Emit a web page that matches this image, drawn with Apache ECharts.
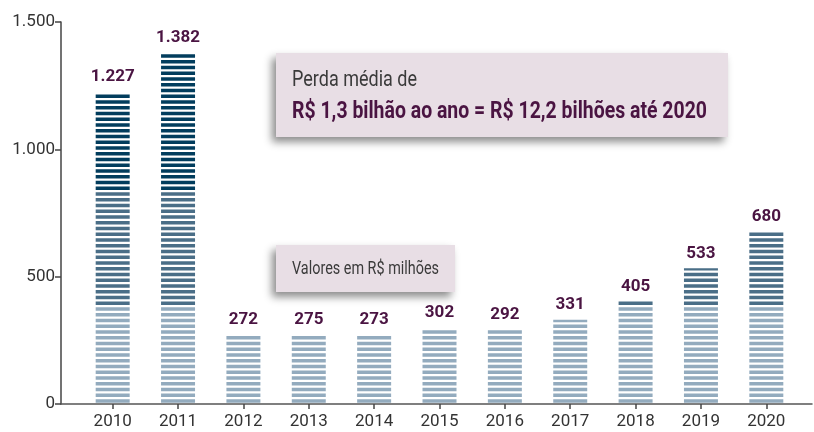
<!DOCTYPE html>
<html>
<head>
<meta charset="utf-8">
<script src="https://cdn.jsdelivr.net/npm/echarts@6/dist/echarts.min.js"></script>
<style>
  html, body { margin: 0; padding: 0; background: #fff; }
  #main { width: 814px; height: 432px; }
</style>
</head>
<body>
<div id="main"></div>
<script>
// dados (R$ milhões)
var years = ['2010', '2011', '2012', '2013', '2014', '2015', '2016', '2017', '2018', '2019', '2020'];
var losses = [1227, 1382, 272, 275, 273, 302, 292, 331, 405, 533, 680];
var yTicks = [0, 500, 1000, 1500];
// faixas de cor das barras (valor onde muda a cor)
var bandLimits = [387, 842];
var bandColors = ['#93abbe', '#4a6e87', '#023d5d'];

var FONT = "Roboto, 'Liberation Sans', sans-serif";

function fmt(v) {
  return String(v).replace(/\B(?=(\d{3})+(?!\d))/g, '.');
}

// largura do texto para comprimir (a fonte original é condensada)
var mctx = document.createElement('canvas').getContext('2d');
function squeeze(text, font, target) {
  mctx.font = font;
  return target / mctx.measureText(text).width;
}

var pitch = 5.75, stripe = 3.6;

function renderStripes(params, api) {
  var idx = api.value(0);
  var v = api.value(1);
  var p0 = api.coord([idx, 0]);
  var p1 = api.coord([idx, v]);
  var l1 = api.coord([idx, bandLimits[0]])[1];
  var l2 = api.coord([idx, bandLimits[1]])[1];
  var w = api.size([1, 0])[0] * 0.52;
  var x = p0[0] - w / 2;
  var children = [];
  for (var yb = p0[1] - 1.2; yb - p1[1] >= 2; yb -= pitch) {
    var yt = Math.max(yb - stripe, p1[1]);
    var mid = (yt + yb) / 2;
    var c = bandColors[0];
    if (mid < l1) c = bandColors[1];
    if (mid < l2) c = bandColors[2];
    children.push({
      type: 'rect',
      shape: { x: x, y: yt, width: w, height: yb - yt },
      style: { fill: c }
    });
  }
  return { type: 'group', children: children };
}

var chart = echarts.init(document.getElementById('main'));

var line2 = 'R$ 1,3 bilhão ao ano = R$ 12,2 bilhões até 2020';
var f1 = '22px ' + FONT, f2 = 'bold 23px ' + FONT, f3 = '18px ' + FONT;

var option = {
  animation: false,
  grid: [
    { left: 80, right: 15, top: 22, bottom: 28 },
    { left: 61, right: 2, top: 22, bottom: 28 }   // só para a linha do eixo x mais comprida
  ],
  xAxis: [
    {
      type: 'category',
      data: years,
      gridIndex: 0,
      axisLine: { show: false },
      axisTick: { show: true, alignWithLabel: true, length: 5, lineStyle: { color: '#444', width: 1.5 } },
      axisLabel: { color: '#333', fontFamily: FONT, fontSize: 17, margin: 9 }
    },
    {
      type: 'value',
      gridIndex: 1,
      min: 0, max: 1,
      axisLine: { show: true, lineStyle: { color: '#555', width: 1.5 } },
      axisTick: { show: false },
      axisLabel: { show: false },
      splitLine: { show: false }
    }
  ],
  yAxis: [
    {
      type: 'value',
      gridIndex: 0,
      min: yTicks[0],
      max: yTicks[yTicks.length - 1],
      interval: yTicks[1] - yTicks[0],
      offset: 19,
      axisLine: { show: true, lineStyle: { color: '#444', width: 1.5 } },
      axisTick: { show: true, length: 6, lineStyle: { color: '#444', width: 1.5 } },
      axisLabel: { color: '#333', fontFamily: FONT, fontSize: 17, margin: 6, formatter: fmt },
      splitLine: { show: false }
    },
    {
      type: 'value',
      gridIndex: 1,
      min: 0, max: 1,
      show: false
    }
  ],
  series: [
    {
      type: 'custom',
      xAxisIndex: 0,
      yAxisIndex: 0,
      data: losses.map(function (v, i) { return [i, v]; }),
      encode: { x: 0, y: 1 },
      renderItem: renderStripes,
      z: 2
    },
    {
      // barras transparentes só para os rótulos
      type: 'bar',
      xAxisIndex: 0,
      yAxisIndex: 0,
      data: losses,
      barWidth: 34,
      itemStyle: { color: 'rgba(0,0,0,0)' },
      label: {
        show: true,
        position: 'top',
        distance: 6,
        color: '#4a1442',
        fontFamily: FONT,
        fontWeight: 'bold',
        fontSize: 17,
        formatter: function (p) { return fmt(p.value); }
      },
      z: 3
    }
  ],
  graphic: [
    {
      type: 'group',
      left: 276, top: 53,
      z: 10,
      children: [
        {
          type: 'rect',
          shape: { x: 0, y: 0, width: 452, height: 84 },
          style: { fill: '#e8dee5', shadowBlur: 8, shadowOffsetX: -4, shadowOffsetY: 5, shadowColor: 'rgba(0,0,0,0.45)' }
        },
        {
          type: 'text', x: 16, y: 27,
          scaleX: squeeze('Perda média de', f1, 125),
          style: { text: 'Perda média de', fill: '#3a3a3a', font: f1, verticalAlign: 'middle' }
        },
        {
          type: 'text', x: 16, y: 59,
          scaleX: squeeze(line2, f2, 415),
          style: { text: line2, fill: '#4a1442', font: f2, verticalAlign: 'middle' }
        }
      ]
    },
    {
      type: 'group',
      left: 276, top: 245,
      z: 10,
      children: [
        {
          type: 'rect',
          shape: { x: 0, y: 0, width: 179, height: 47 },
          style: { fill: '#e8dee5', shadowBlur: 8, shadowOffsetX: -4, shadowOffsetY: 5, shadowColor: 'rgba(0,0,0,0.45)' }
        },
        {
          type: 'text', x: 16, y: 24,
          scaleX: squeeze('Valores em R$ milhões', f3, 147),
          style: { text: 'Valores em R$ milhões', fill: '#3a3a3a', font: f3, verticalAlign: 'middle' }
        }
      ]
    }
  ]
};

chart.setOption(option);
</script>
</body>
</html>
